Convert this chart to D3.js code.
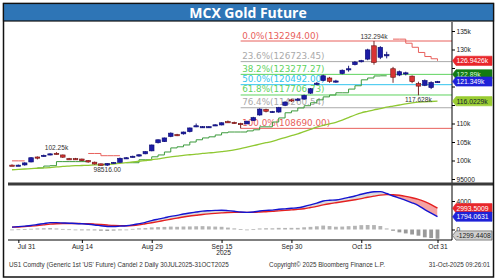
<!DOCTYPE html>
<html><head><meta charset="utf-8">
<script src="https://cdn.jsdelivr.net/npm/d3@7"></script>
<style>body{margin:0;background:#fff}svg{display:block}</style>
</head><body>
<svg id="c" width="500" height="280"></svg>
<script>
const dates = ["2025-07-30","2025-07-31","2025-08-01","2025-08-04","2025-08-05","2025-08-06","2025-08-07","2025-08-08","2025-08-11","2025-08-12",
"2025-08-13","2025-08-14","2025-08-15","2025-08-18","2025-08-19","2025-08-20","2025-08-21","2025-08-22","2025-08-25","2025-08-26",
"2025-08-27","2025-08-28","2025-08-29","2025-09-01","2025-09-02","2025-09-03","2025-09-04","2025-09-05","2025-09-08","2025-09-09",
"2025-09-10","2025-09-11","2025-09-12","2025-09-15","2025-09-16","2025-09-17","2025-09-18","2025-09-19","2025-09-22","2025-09-23",
"2025-09-24","2025-09-25","2025-09-26","2025-09-29","2025-09-30","2025-10-01","2025-10-02","2025-10-03","2025-10-06","2025-10-07",
"2025-10-08","2025-10-09","2025-10-10","2025-10-13","2025-10-14","2025-10-15","2025-10-16","2025-10-17","2025-10-20","2025-10-21",
"2025-10-22","2025-10-23","2025-10-24","2025-10-27","2025-10-28","2025-10-29","2025-10-30","2025-10-31"];

const open = [98750,98600,98800,99600,100950,101200,101550,101950,101500,100500,
100500,100400,100000,99550,99100,98750,99400,99500,100600,101000,
101200,101800,102600,104800,105100,106500,107000,107200,107800,109200,
109000,109000,109500,109600,110500,110300,110000,109900,110800,112300,
113800,113100,113100,114900,116400,116400,116600,118200,120700,121600,
122300,121300,123500,124500,125900,126800,127400,131000,127900,128300,
124800,123100,123600,122800,120800,120300,119700,121200];
const high = [98950,98900,99500,100900,101100,101600,101950,102250,101600,100700,
100700,100500,100100,99700,99200,99300,99600,100800,100900,101300,
101700,102500,104300,105700,106200,107600,107200,107800,108900,110000,
109300,109300,109800,110300,110800,110500,110200,110800,111800,114100,
114000,113400,114500,116000,116600,116900,117800,119600,121200,123200,
122600,121800,124600,125600,126900,127200,130200,132294,130900,129400,
125300,124300,124000,123000,121300,121900,121400,121500];
const low = [98550,98560,98600,99500,100300,101000,101400,101600,100700,100200,
100200,99800,99400,98900,98600,98516,99200,99400,100400,100800,
101000,101700,102500,104600,105000,106300,106600,107000,107600,109000,
108800,108800,109300,109500,110200,109900,108690,109800,110700,112100,
113000,112900,112900,114700,115800,116200,116400,118000,120400,121400,
121000,121000,123300,124000,125700,126500,127100,125900,127400,127600,
121000,122800,123000,120900,117628,120100,119300,121000];
const close = [98650,98750,99350,100750,100850,101400,101800,101800,100900,100400,
100400,99950,99600,99050,98700,99200,99500,100600,100750,101150,
101550,102400,104200,105600,106100,107400,106850,107700,108800,109400,
109150,109150,109650,110200,110400,110100,109800,110600,111600,113900,
113300,113250,114300,115800,116100,116600,117600,119400,120900,122900,
121400,121500,124400,124800,126600,127000,129900,126500,130600,128600,
122500,124000,123700,121300,120100,121600,121100,121349];

// trailing stop (red above price / green below price)
const stopRed = [99900,99900,99900,null,null,null,null,null,null,null,
null,null,101900,101900,101300,101300,101300,101300,null,null,
null,null,null,null,null,null,null,null,null,null,
null,null,null,null,null,null,null,null,null,null,
null,null,null,null,null,null,null,null,null,null,
null,null,null,null,null,null,null,null,null,null,
132800,132800,131700,130600,129200,128100,127500,126942.6];
const stopGreen = [null,null,null,null,98000,98500,98600,99700,99700,99700,
99700,99700,99700,null,null,null,null,null,99400,99400,
100200,100200,101000,101500,102300,103400,103700,104200,105000,105600,
106100,106400,106900,107500,107700,107700,107700,108000,108300,109100,
109100,110400,111500,112900,113400,114200,114800,115600,116400,117200,
117700,118300,118300,119300,120200,121800,122300,122850,122890,122890,
null,null,null,null,null,null,null,null];
const sma = [97500,97600,97700,97800,97900,98000,98100,98250,98400,98500,
98600,98650,98700,98800,98850,98950,99050,99200,99400,99600,
99800,100000,100200,100450,100700,101000,101200,101400,101550,101700,
101900,102050,102200,102400,102600,102850,103200,103600,104000,104400,
104800,105200,105700,106200,106700,107200,107800,108400,109000,109500,
109900,110300,110900,111600,112300,112900,113300,113700,114000,114400,
114700,115000,115300,115550,115750,115850,115950,116022.9];

const macd = [330,400,480,570,700,830,960,960,920,880,
850,800,730,640,530,430,420,470,530,650,
820,1000,1250,1450,1640,1850,1980,2180,2320,2450,
2580,2640,2680,2710,2650,2560,2450,2400,2450,2600,
2680,2720,2850,2900,2980,3050,3230,3450,3700,4000,
4100,4150,4300,4500,4700,4950,5150,5300,5320,5050,
4700,4400,4100,3750,3350,2800,2300,1794.0631];
const signal = [330,350,400,470,550,650,750,810,840,850,
850,830,810,760,700,630,570,540,530,560,
650,800,950,1110,1280,1440,1600,1760,1890,2000,
2110,2200,2270,2330,2380,2400,2400,2400,2410,2450,
2500,2550,2620,2680,2750,2820,2920,3080,3250,3450,
3620,3760,3890,4030,4180,4340,4520,4680,4830,4900,
4880,4800,4650,4450,4220,3900,3500,2993.5009];
const hist = [0,30,60,100,150,180,210,150,80,30,
0,-30,-80,-120,-170,-200,-150,-70,0,90,
170,200,300,340,360,410,380,420,430,450,
470,440,410,380,270,160,50,0,40,150,
180,170,230,220,230,230,310,370,450,550,
480,390,410,470,520,610,630,620,490,150,
-180,-400,-550,-700,-870,-1100,-1200,-1299.4408];

const fibLabels = ["0.0%","23.6%","38.2%","50.0%","61.8%","76.4%","100.0%"];
const fibValues = [132294.00,126723.45,123277.27,120492.00,117706.73,114260.54,108690.00];
const fibStart = "2025-09-18";

const priceTicks = [95000,100000,105000,110000,115000,120000,125000,130000,135000];
const priceTickLabels = ["95000","100k","105k","110k","115k","120k","125k","130k","135k"];
const macdTicks = [0,4000];
const macdTickLabels = ["0","4000"];
const xTickDates = ["2025-07-31","2025-08-14","2025-08-29","2025-09-15","2025-09-30","2025-10-15","2025-10-31"];
const xTickLabels = ["Jul 31","Aug 14","Aug 29","Sep 15","Sep 30","Oct 15","Oct 31"];

const lastPrice = {v:121349, t:"121.349k"};
const lastRed = {v:126942.6, t:"126.9426k"};
const lastGreen = {v:122890, t:"122.89k"};
const lastSma = {v:116022.9, t:"116.0229k"};
const lastMacd = {v:1794.0631, t:"1794.0631"};
const lastSignal = {v:2993.5009, t:"2993.5009"};
const lastHist = {v:-1299.4408, t:"-1299.4408"};

// ---------- drawing ----------
const svg = d3.select("#c");
const AX = 452;
const x = d3.scalePoint().domain(dates).range([12, 437.5]);
const y = d3.scaleLinear().domain([95000,135000]).range([179,31]);
const ym = d3.scaleLinear().domain([0,4000]).range([229.5,201]);
const N = dates.length;
const idx = d3.range(N);
const F = "Liberation Sans, Arial, sans-serif";

svg.append("rect").attr("width",500).attr("height",280).attr("fill","#fff");

const defs = svg.append("defs");
defs.append("clipPath").attr("id","mainClip").append("rect").attr("x",5).attr("y",22).attr("width",AX-5).attr("height",160);
const main = svg.append("g").attr("clip-path","url(#mainClip)");

// fib lines + labels
const fibCol = ["#e8605c","#aaaaaa","#5fd35f","#33c4ee","#5fd35f","#aaaaaa","#e8605c"];
fibValues.forEach((v,i)=>{
  main.append("line").attr("x1",x(fibStart)).attr("x2",AX).attr("y1",y(v)).attr("y2",y(v))
    .attr("stroke",fibCol[i]).attr("stroke-width",1);
  main.append("text").attr("x",x(fibStart)+1.5).attr("y",y(v)-2.5)
    .attr("font-family","DejaVu Sans, sans-serif").attr("font-size",8.8).attr("fill",fibCol[i])
    .text(fibLabels[i]+"("+v.toFixed(2)+")");
});

// lines
const stepLine = d3.line().defined(d=>d[1]!=null).x(d=>x(dates[d[0]])).y(d=>y(d[1])).curve(d3.curveStepAfter);
main.append("path").attr("d",stepLine(idx.map(i=>[i,stopGreen[i]]))).attr("fill","none").attr("stroke","#3c9a3c").attr("stroke-width",1);
main.append("path").attr("d",stepLine(idx.map(i=>[i,stopRed[i]]))).attr("fill","none").attr("stroke","#e8605c").attr("stroke-width",1);
const smooth = d3.line().x(d=>x(dates[d[0]])).y(d=>y(d[1])).curve(d3.curveMonotoneX);
main.append("path").attr("d",smooth(idx.map(i=>[i,sma[i]]))).attr("fill","none").attr("stroke","#8fc832").attr("stroke-width",1.3);

// candles
const bw = 4.6;
idx.forEach(i=>{
  const up = close[i] >= open[i];
  const cx = x(dates[i]);
  const stroke = up ? "#0b0b70" : "#6a1010";
  main.append("line").attr("x1",cx).attr("x2",cx).attr("y1",y(high[i])).attr("y2",y(low[i])).attr("stroke",stroke).attr("stroke-width",0.9);
  const yt = y(Math.max(open[i],close[i])), yb = y(Math.min(open[i],close[i]));
  const h = Math.max(1.2, yb-yt);
  main.append("rect").attr("x",cx-bw/2).attr("y",yt).attr("width",bw).attr("height",h)
    .attr("fill", up ? "#1c1ca6" : "#d83434").attr("stroke",stroke).attr("stroke-width",0.6);
});

// hi/lo annotations
function note(i, v, text, above){
  main.append("text").attr("x",x(dates[i])).attr("y", above ? y(v)-2.5 : y(v)+6.5)
    .attr("text-anchor","middle").attr("font-family",F).attr("font-size",6.6).attr("fill","#333").text(text);
}
note(7, high[7], "102.25k", true);
note(15, low[15], "98516.00", false);
note(57, high[57], "132.294k", true);
note(64, low[64], "117.628k", false);

// value boxes positions (main panel)
const mainBoxes = [
  {yv:y(lastRed.v), t:lastRed.t, bg:"#e8262b", fg:"#fff"},
  {yv:y(lastGreen.v)-1.5, t:lastGreen.t, bg:"#137a13", fg:"#d8ffd8"},
  {yv:y(lastPrice.v), t:lastPrice.t, bg:"#1f22d8", fg:"#fff"},
  {yv:y(lastSma.v), t:lastSma.t, bg:"#9acd32", fg:"#123"}
];

// right axis (main)
svg.append("line").attr("x1",AX).attr("x2",AX).attr("y1",22).attr("y2",240).attr("stroke","#000").attr("stroke-width",1);
const ra = svg.append("g").attr("transform",`translate(${AX},0)`)
  .call(d3.axisRight(y).tickValues(priceTicks).tickFormat((d,i)=>priceTickLabels[i]).tickSize(3).tickPadding(1.5));
ra.select(".domain").remove();
ra.selectAll("text").attr("font-family",F).attr("font-size",6.6).attr("fill","#222");
ra.selectAll("line").attr("stroke","#000");
// labels hidden behind the value boxes (as in the reference) are not drawn
ra.selectAll(".tick").filter(d=>mainBoxes.some(b=>Math.abs(b.yv-y(d))<8)).select("text").remove();

function valBox(yv, text, bg, fg, st){
  const g = svg.append("g");
  g.append("path").attr("d",`M${AX+0.5},${yv} L${AX+4},${yv-4.6} L492,${yv-4.6} L492,${yv+4.6} L${AX+4},${yv+4.6} Z`)
    .attr("fill",bg).attr("stroke",st||bg).attr("stroke-width",0.6);
  g.append("text").attr("x",AX+4.5).attr("y",yv).attr("dy","0.35em").attr("font-family",F).attr("font-size",6.8).attr("fill",fg).text(text);
}
mainBoxes.forEach(b=>valBox(b.yv,b.t,b.bg,b.fg));

// separator
svg.append("rect").attr("x",8).attr("y",182.5).attr("width",485).attr("height",3).attr("fill","#3a3a3a");

// lower panel: MACD
defs.append("clipPath").attr("id","lowClip").append("rect").attr("x",5).attr("y",186).attr("width",AX-5).attr("height",54);
const lg = svg.append("g").attr("clip-path","url(#lowClip)");
const curve = d3.curveMonotoneX;
const between = d3.area().x(i=>x(dates[i])).y0(i=>ym(signal[i])).y1(i=>ym(macd[i])).curve(curve);
defs.append("clipPath").attr("id","aboveSig").append("path").attr("d",d3.area().x(i=>x(dates[i])).y0(0).y1(i=>ym(signal[i])).curve(curve)(idx));
defs.append("clipPath").attr("id","belowSig").append("path").attr("d",d3.area().x(i=>x(dates[i])).y0(280).y1(i=>ym(signal[i])).curve(curve)(idx));
lg.append("path").attr("d",between(idx)).attr("fill","#dcdcdc").attr("clip-path","url(#aboveSig)");
lg.append("path").attr("d",between(idx)).attr("fill","#f5a3a3").attr("clip-path","url(#belowSig)");
idx.forEach(i=>{
  const v = hist[i];
  const y0 = ym(0), y1 = ym(v);
  lg.append("rect").attr("x",x(dates[i])-1.9).attr("width",3.8)
    .attr("y",Math.min(y0,y1)).attr("height",Math.max(0.8,Math.abs(y1-y0)))
    .attr("fill", v>=0 ? "#b4b4b4" : "#9a9a9a");
});
const ml = d3.line().x(i=>x(dates[i])).curve(curve);
lg.append("path").attr("d",ml.y(i=>ym(signal[i]))(idx)).attr("fill","none").attr("stroke","#e42020").attr("stroke-width",1.4);
lg.append("path").attr("d",ml.y(i=>ym(macd[i]))(idx)).attr("fill","none").attr("stroke","#1414d0").attr("stroke-width",1.4);

const la = svg.append("g").attr("transform",`translate(${AX},0)`)
  .call(d3.axisRight(ym).tickValues(macdTicks).tickFormat((d,i)=>macdTickLabels[i]).tickSize(3).tickPadding(1.5));
la.select(".domain").remove();
la.selectAll("text").attr("font-family",F).attr("font-size",6.6).attr("fill","#222");
valBox(ym(lastSignal.v), lastSignal.t, "#e8262b", "#fff");
valBox(ym(lastMacd.v), lastMacd.t, "#1f22d8", "#fff");
valBox(Math.min(ym(lastHist.v),235.5), lastHist.t, "#cfcfcf", "#222", "#444");

// x axis
svg.append("line").attr("x1",8).attr("x2",AX).attr("y1",240).attr("y2",240).attr("stroke","#000");
const xa = svg.append("g").attr("transform","translate(0,240)")
  .call(d3.axisBottom(x).tickValues(xTickDates).tickFormat((d,i)=>xTickLabels[i]).tickSize(3).tickPadding(1.5));
xa.select(".domain").remove();
xa.selectAll("text").attr("font-family",F).attr("font-size",6.6).attr("fill","#222");
xa.selectAll(".tick").filter((d,i)=>i===0).select("text").attr("text-anchor","start").attr("x",-1);
svg.append("text").attr("x",x("2025-09-15")+2).attr("y",255).attr("text-anchor","middle")
  .attr("font-family",F).attr("font-size",6.6).attr("fill","#222").text("2025");

// footer
svg.append("text").attr("x",9).attr("y",267).attr("font-family",F).attr("font-size",6.3).attr("fill","#333")
  .text("US1 Comdty (Generic 1st 'US' Future) Candel 2 Daily 30JUL2025-31OCT2025");
svg.append("text").attr("x",327).attr("y",267).attr("text-anchor","middle").attr("font-family",F).attr("font-size",6.3).attr("fill","#333")
  .text("Copyright\u00A9 2025 Bloomberg Finance L.P.");
svg.append("text").attr("x",490).attr("y",267).attr("text-anchor","end").attr("font-family",F).attr("font-size",6.3).attr("fill","#333")
  .text("31-Oct-2025 09:26:01");

// frame + title
svg.append("rect").attr("x",3.5).attr("y",3.5).attr("width",490).attr("height",273.5).attr("fill","none").attr("stroke","#111").attr("stroke-width",1.5);
svg.append("rect").attr("x",3.5).attr("y",3.5).attr("width",490).attr("height",17.5).attr("fill","#2e75b6").attr("stroke","#111").attr("stroke-width",1.2);
svg.append("text").attr("x",248).attr("y",12.6).attr("dy","0.35em").attr("text-anchor","middle")
  .attr("font-family","Open Sans, sans-serif").attr("font-weight",700).attr("font-size",14).attr("fill","#fff").text("MCX Gold Future");
</script>
</body></html>
